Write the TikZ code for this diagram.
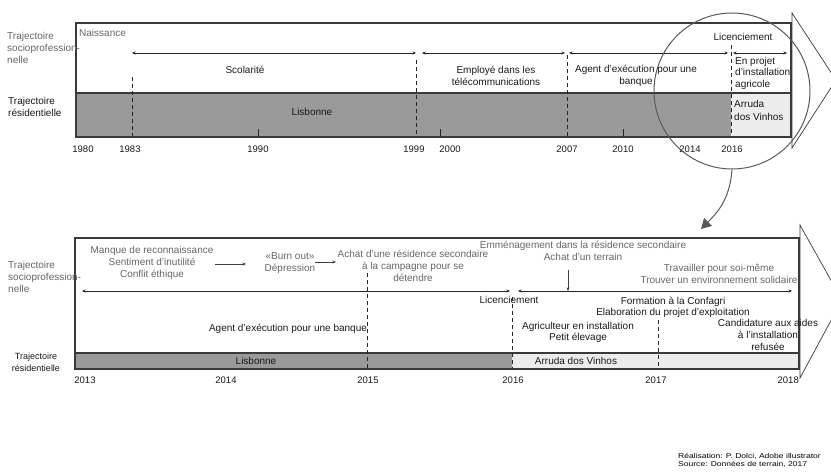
\documentclass[tikz,border=0pt]{standalone}
\usepackage{fontspec}
\setmainfont{Liberation Sans}
\newfontfamily\widefont[FakeStretch=1.22]{Liberation Sans}
\usetikzlibrary{arrows.meta}
\definecolor{bargray}{HTML}{9A9A9A}
\definecolor{barlight}{HTML}{ECECEC}
\definecolor{txtgray}{HTML}{666666}
\definecolor{framecol}{HTML}{3A3A3A}
\begin{document}
\begin{tikzpicture}[x=1pt,y=-1pt,
  frame/.style={draw=framecol, line width=1.3pt},
  dashline/.style={draw=black!85, line width=0.9pt, dash pattern=on 4pt off 3pt},
  tickline/.style={draw=black!85, line width=1pt},
  span/.style={draw=black!85, line width=0.8pt, {Stealth[length=3.5pt,width=3pt]}-{Stealth[length=3.5pt,width=3pt]}},
  smallarrow/.style={draw=black!75, line width=0.7pt, -{Stealth[length=3.5pt,width=3pt]}},
  lbl/.style={font=\fontsize{10}{12}\selectfont, align=center, inner sep=0pt, text=black!90},
  glbl/.style={lbl, text=txtgray},
  yr/.style={font=\fontsize{9.5}{11}\selectfont, inner sep=0pt, text=black!90},
  bigarrow/.style={draw=framecol, line width=0.7pt}
]
\useasboundingbox (0,0) rectangle (831,473);

%% ================= TOP PANEL =================
\fill[bargray] (76,93) rectangle (731,137);
\fill[barlight] (731,93) rectangle (791,137);
\draw[bigarrow] (792,13) -- (836,80) -- (792,148) -- cycle;
\draw[frame] (76,23) rectangle (791,137);
\draw[frame] (76,93) -- (791,93);

% dashed separators
\coordinate (d83t) at (132,77);  \coordinate (d83b) at (132,137);
\coordinate (d99t) at (416,60);  \coordinate (d99b) at (416,137);
\coordinate (d07t) at (567,55);  \coordinate (d07b) at (567,137);
\coordinate (d16t) at (731,45);  \coordinate (d16b) at (731,137);
\draw[dashline] (d83t) -- (d83b);
\draw[dashline] (d99t) -- (d99b);
\draw[dashline] (d07t) -- (d07b);
\draw[dashline] (d16t) -- (d16b);

% ticks
\coordinate (t90t) at (258,129); \coordinate (t90b) at (258,137);
\coordinate (t00t) at (440,129); \coordinate (t00b) at (440,137);
\coordinate (t10t) at (623,129); \coordinate (t10b) at (623,137);
\draw[tickline] (t90t) -- (t90b);
\draw[tickline] (t00t) -- (t00b);
\draw[tickline] (t10t) -- (t10b);

% spans
\coordinate (s1a) at (132,53); \coordinate (s1b) at (416,53);
\coordinate (s2a) at (422,53); \coordinate (s2b) at (565,53);
\coordinate (s3a) at (569,53); \coordinate (s3b) at (728,53);
\coordinate (s4a) at (733,53); \coordinate (s4b) at (787,53);
\draw[span] (s1a) -- (s1b);
\draw[span] (s2a) -- (s2b);
\draw[span] (s3a) -- (s3b);
\draw[span] (s4a) -- (s4b);

% texts
\node[glbl, anchor=west, align=left] (trajSP1) at (7,47.5) {Trajectoire\\socioprofession-\\nelle};
\node[lbl, anchor=west, align=left] (trajR1) at (8,107) {Trajectoire\\résidentielle};
\node[glbl, anchor=west] (naiss) at (79,33) {Naissance};
\node[lbl] (scol) at (245,70) {Scolarité};
\node[lbl] (empl) at (496,76) {Employé dans les\\télécommunications};
\node[lbl] (agent1) at (636,76) {Agent d’exécution pour une\\banque};
\node[lbl] (licen1) at (743,37) {Licenciement};
\node[lbl, anchor=west, align=left, font=\fontsize{10}{11.5}\selectfont] (projet) at (735,73) {En projet\\d’installation\\agricole};
\node[lbl] (lisb1) at (312,112) {Lisbonne};
\node[lbl, anchor=west, align=left, font=\fontsize{10}{12.5}\selectfont] (arruda1) at (734,110.5) {Arruda\\dos Vinhos};

% years
\node[yr] (y1980) at (83,149) {1980};
\node[yr] (y1983) at (130,149) {1983};
\node[yr] (y1990) at (258,149) {1990};
\node[yr] (y1999) at (414,149) {1999};
\node[yr] (y2000) at (450,149) {2000};
\node[yr] (y2007) at (567,149) {2007};
\node[yr] (y2010) at (623,149) {2010};
\node[yr] (y2014) at (690,149) {2014};
\node[yr] (y2016) at (732,149) {2016};

% zoom circle and arrow
\node[draw=black!65, line width=1pt, circle, minimum size=156pt, inner sep=0pt] (zoomc) at (732,91) {};
\coordinate (zend) at (701,229);
\draw[draw=black!65, line width=1pt, -{Triangle[length=10pt,width=11pt]}] (zoomc.south) .. controls (730,200) and (716,214) .. (zend);

%% ================= BOTTOM PANEL =================
\fill[bargray] (75,353) rectangle (512,369);
\fill[barlight] (512,353) rectangle (799,369);
\draw[bigarrow] (800,225) -- (842,300) -- (800,378) -- cycle;
\draw[frame] (75,238) rectangle (799,369);
\draw[frame] (75,353) -- (799,353);

\coordinate (b15t) at (367,273); \coordinate (b15b) at (367,369);
\coordinate (b16t) at (512,297); \coordinate (b16b) at (512,369);
\coordinate (b17t) at (658,320); \coordinate (b17b) at (658,369);
\draw[dashline] (b15t) -- (b15b);
\draw[dashline] (b16t) -- (b16b);
\draw[dashline] (b17t) -- (b17b);

\coordinate (bs1a) at (82,291);  \coordinate (bs1b) at (510,291);
\coordinate (bs2a) at (518,291); \coordinate (bs2b) at (792,291);
\draw[span] (bs1a) -- (bs1b);
\draw[span] (bs2a) -- (bs2b);

\node[glbl] (manque) at (152,263) {Manque de reconnaissance\\Sentiment d’inutilité\\Conflit éthique};
\node[glbl] (burn) at (290,263) {«Burn out»\\Dépression};
\node[glbl] (achat) at (413,266) {Achat d’une résidence secondaire\\à la campagne pour se\\détendre};
\node[glbl] (emmen) at (583,251) {Emménagement dans la résidence secondaire\\Achat d’un terrain};
\node[glbl] (travail) at (719,274) {Travailler pour soi-même\\Trouver un environnement solidaire};

\coordinate (a1s) at (215,264); \coordinate (a1e) at (246,264);
\coordinate (a2s) at (315,262); \coordinate (a2e) at (336,262);
\coordinate (a3s) at (568,270); \coordinate (a3e) at (568,291);
\draw[smallarrow] (a1s) -- (a1e);
\draw[smallarrow] (a2s) -- (a2e);
\draw[smallarrow] (a3s) -- (a3e);

\node[lbl] (licen2) at (509,300) {Licenciement};
\node[lbl, font=\fontsize{10}{11.5}\selectfont] (form) at (673,307.5) {Formation à la Confagri\\Elaboration du projet d’exploitation};
\node[lbl, font=\fontsize{10}{11.5}\selectfont] (agric) at (578,332.5) {Agriculteur en installation\\Petit élevage};
\node[lbl] (cand) at (768,335) {Candidature aux aides\\à l’installation\\refusée};
\node[lbl] (agent2) at (288,329) {Agent d’exécution pour une banque};
\node[lbl] (lisb2) at (256,361) {Lisbonne};
\node[lbl] (arruda2) at (576,361) {Arruda dos Vinhos};

\node[glbl, anchor=west, align=left] (trajSP2) at (8,277) {Trajectoire\\socioprofession-\\nelle};
\node[lbl, font=\fontsize{9}{12}\selectfont] (trajR2) at (36,362) {Trajectoire\\résidentielle};

\node[yr] (y2013) at (85,380) {2013};
\node[yr] (y2014b) at (226,380) {2014};
\node[yr] (y2015) at (368,380) {2015};
\node[yr] (y2016b) at (513,380) {2016};
\node[yr] (y2017) at (656,380) {2017};
\node[yr, anchor=east] (y2018) at (799,380) {2018};

\node[font=\widefont\fontsize{7}{7.5}\selectfont, anchor=west, inner sep=0pt, align=left] (credit) at (678,460.5) {Réalisation: P. Dolci, Adobe illustrator\\Source: Données de terrain, 2017};
\end{tikzpicture}
\end{document}
